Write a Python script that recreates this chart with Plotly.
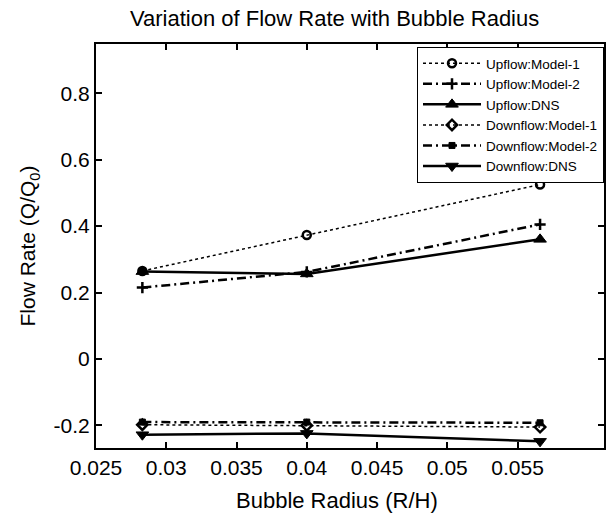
import plotly.graph_objects as go

# ---- data ----
bubble_radius = [0.0283, 0.04, 0.0566]
up_model1 = [0.265, 0.373, 0.525]
up_model2 = [0.215, 0.262, 0.405]
up_dns = [0.263, 0.256, 0.360]
down_model1 = [-0.198, -0.200, -0.205]
down_model2 = [-0.190, -0.190, -0.192]
down_dns = [-0.228, -0.224, -0.248]

series_names = ["Upflow:Model-1", "Upflow:Model-2", "Upflow:DNS",
                "Downflow:Model-1", "Downflow:Model-2", "Downflow:DNS"]

x_tickvals = [0.025, 0.03, 0.035, 0.04, 0.045, 0.05, 0.055]
x_ticktext = ["0.025", "0.03", "0.035", "0.04", "0.045", "0.05", "0.055"]
y_tickvals = [-0.2, 0, 0.2, 0.4, 0.6, 0.8]
y_ticktext = ["-0.2", "0", "0.2", "0.4", "0.6", "0.8"]

FONT = "Liberation Sans, Arial, Helvetica, sans-serif"
DASHDOT = "9px,4px,2px,4px"

styles = [
    dict(dash="dot", width=1.5, symbol="circle-open", size=8, mlw=2.5),
    dict(dash=DASHDOT, width=2.5, symbol="cross-thin-open", size=8, mlw=2.5),
    dict(dash="solid", width=2.5, symbol="triangle-up", size=11, mlw=1),
    dict(dash="dot", width=1.5, symbol="diamond-open", size=8, mlw=2.5),
    dict(dash=DASHDOT, width=2.5, symbol="square", size=6, mlw=1),
    dict(dash="solid", width=2.5, symbol="triangle-down", size=11, mlw=1),
]
values = [up_model1, up_model2, up_dns, down_model1, down_model2, down_dns]

fig = go.Figure()
for name, vals, st in zip(series_names, values, styles):
    fig.add_trace(go.Scatter(
        x=bubble_radius, y=vals, name=name, mode="lines+markers",
        line=dict(color="black", width=st["width"], dash=st["dash"]),
        marker=dict(symbol=st["symbol"], size=st["size"], color="black",
                    line=dict(color="black", width=st["mlw"])),
    ))

axis_common = dict(
    showline=True, linecolor="black", linewidth=2, mirror="ticks",
    ticks="inside", ticklen=6, tickwidth=2, tickcolor="black",
    showgrid=False, zeroline=False, automargin=False,
    tickfont=dict(family=FONT, size=21, color="black"),
)

fig.update_layout(
    width=607, height=518,
    margin=dict(l=96, r=3, t=44, b=70),
    paper_bgcolor="white", plot_bgcolor="white",
    font=dict(family=FONT, color="black"),
    showlegend=True,
    legend=dict(
        x=1.0, y=0.9926, xanchor="right", yanchor="top",
        bgcolor="white", bordercolor="black", borderwidth=1,
        font=dict(family=FONT, size=13.5, color="black"),
        tracegroupgap=0, itemwidth=58,
    ),
    xaxis=dict(range=[0.025, 0.06115], tickvals=x_tickvals, ticktext=x_ticktext,
               **axis_common),
    yaxis=dict(range=[-0.268, 0.948], tickvals=y_tickvals, ticktext=y_ticktext,
               title=dict(text="Flow Rate (Q/Q<sub>0</sub>)", standoff=12,
                          font=dict(family=FONT, size=21, color="black")),
               **axis_common),
    annotations=[
        dict(text="Variation of Flow Rate with Bubble Radius", xref="paper", yref="paper",
             x=0.47, y=1.0, yshift=26, xanchor="center", yanchor="middle", showarrow=False,
             font=dict(family=FONT, size=22, color="black")),
        dict(text="Bubble Radius (R/H)", xref="paper", yref="paper",
             x=0.475, y=0.0, yshift=-52, xanchor="center", yanchor="middle", showarrow=False,
             font=dict(family=FONT, size=22, color="black")),
    ],
)

fig.write_html("out.html", config={"displayModeBar": False},
               post_script="document.body.style.margin='0px';")
